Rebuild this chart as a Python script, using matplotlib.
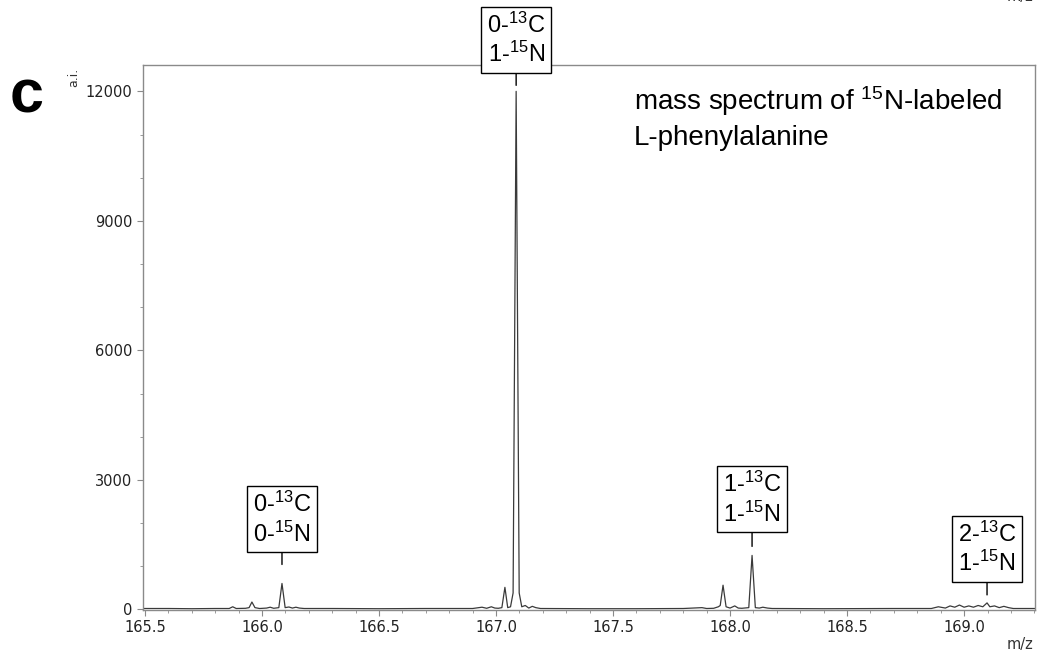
import matplotlib
matplotlib.use("Agg")
import matplotlib.pyplot as plt
from matplotlib.ticker import MultipleLocator

plt.rcParams['mathtext.fontset'] = 'custom'
plt.rcParams['mathtext.rm'] = 'Liberation Sans'
plt.rcParams['mathtext.it'] = 'Liberation Sans'
plt.rcParams['mathtext.bf'] = 'Liberation Sans:bold'

# ==================== data ====================
mz = [165.49, 165.60, 165.70, 165.80, 165.86, 165.875, 165.89, 165.93, 165.945, 165.957,
      165.97, 165.99, 166.02, 166.035, 166.05, 166.072, 166.0855, 166.099, 166.115, 166.13,
      166.145, 166.16, 166.18, 166.30, 166.50, 166.70, 166.90, 166.94, 166.96, 166.98,
      166.995, 167.01, 167.025, 167.038, 167.05, 167.062, 167.073, 167.086, 167.099, 167.11,
      167.125, 167.14, 167.155, 167.17, 167.19, 167.40, 167.60, 167.80, 167.88, 167.90,
      167.93, 167.95, 167.958, 167.970, 167.983, 168.00, 168.02, 168.035, 168.05, 168.08,
      168.094, 168.108, 168.125, 168.14, 168.16, 168.18, 168.40, 168.70, 168.86, 168.89,
      168.92, 168.94, 168.96, 168.98, 169.00, 169.02, 169.04, 169.06, 169.08, 169.098,
      169.11, 169.13, 169.15, 169.17, 169.19, 169.21, 169.31]
intensity = [20, 20, 15, 20, 20, 60, 20, 25, 40, 170,
             40, 20, 30, 50, 25, 40, 600, 40, 55, 30,
             50, 30, 20, 20, 15, 20, 20, 50, 25, 60,
             30, 25, 40, 510, 40, 60, 380, 12000, 380, 60,
             90, 30, 70, 40, 20, 15, 15, 20, 40, 20,
             25, 60, 90, 560, 60, 30, 80, 30, 25, 40,
             1250, 40, 30, 50, 30, 20, 15, 20, 20, 60,
             30, 80, 50, 100, 50, 80, 50, 90, 60, 150,
             60, 80, 40, 70, 40, 20, 20]

labels = ["0-$^{13}$C\n0-$^{15}$N", "0-$^{13}$C\n1-$^{15}$N",
          "1-$^{13}$C\n1-$^{15}$N", "2-$^{13}$C\n1-$^{15}$N"]
label_mz = [166.0855, 167.086, 168.094, 169.098]
label_int = [600, 12000, 1250, 150]

# ==================== figure ====================
fig = plt.figure(figsize=(10.42, 6.56), dpi=100)
ax = fig.add_axes([0.1372, 0.0701, 0.8561, 0.8308])

ax.plot(mz, intensity, color="#3a3a3a", lw=0.9)

ax.set_xlim(165.4915, 169.303)
ax.set_ylim(-15, 12610)
ax.xaxis.set_major_locator(MultipleLocator(0.5))
ax.xaxis.set_minor_locator(MultipleLocator(0.1))
ax.yaxis.set_major_locator(MultipleLocator(3000))
ax.yaxis.set_minor_locator(MultipleLocator(1000))
ax.xaxis.set_major_formatter(plt.FormatStrFormatter("%.1f"))

for s in ax.spines.values():
    s.set_color("#8a8a8a")
    s.set_linewidth(1.0)
ax.tick_params(which="both", direction="out", color="#8a8a8a", labelcolor="#222222",
               labelsize=10.5)
ax.tick_params(which="major", length=4)
ax.tick_params(which="minor", length=2.5)

# annotation boxes: (gap box->peak px, line length px)
geom = [(31, 12), (18, 12), (23, 14), (21, 13)]
for lab, x, y, (gap, ln) in zip(labels, label_mz, label_int, geom):
    ax.annotate(lab, xy=(x, y), xytext=(0, gap + 6), textcoords="offset pixels",
                ha="center", va="bottom", fontsize=17, family="Liberation Sans",
                linespacing=1.2, zorder=6, annotation_clip=False,
                bbox=dict(boxstyle="square,pad=0.25", fc="white", ec="black", lw=1.0),
                arrowprops=dict(arrowstyle="-", color="black", lw=1.0,
                                shrinkA=0, shrinkB=(gap - ln) * 0.72))

ax.text(634 / 1042, 1 - 145 / 656, "mass spectrum of $^{15}$N-labeled\nL-phenylalanine",
        transform=fig.transFigure, fontsize=20, family="Liberation Sans",
        ha="left", va="baseline", linespacing=1.35)

fig.text(27 / 1042, 1 - 97 / 656, "c", fontsize=44, fontweight="bold",
         family="Liberation Sans", ha="center", va="center")
fig.text(74 / 1042, 1 - 77 / 656, "a.i.", rotation=90, fontsize=9,
         color="#333333", ha="center", va="center")
fig.text(1020 / 1042, 1 - 645 / 656, "m/z", fontsize=10.5, color="#333333",
         ha="center", va="center")
fig.text(1020 / 1042, 1 + 3 / 656, "m/z", fontsize=10.5, color="#333333",
         ha="center", va="center")

fig.savefig("out.png", dpi=100)
